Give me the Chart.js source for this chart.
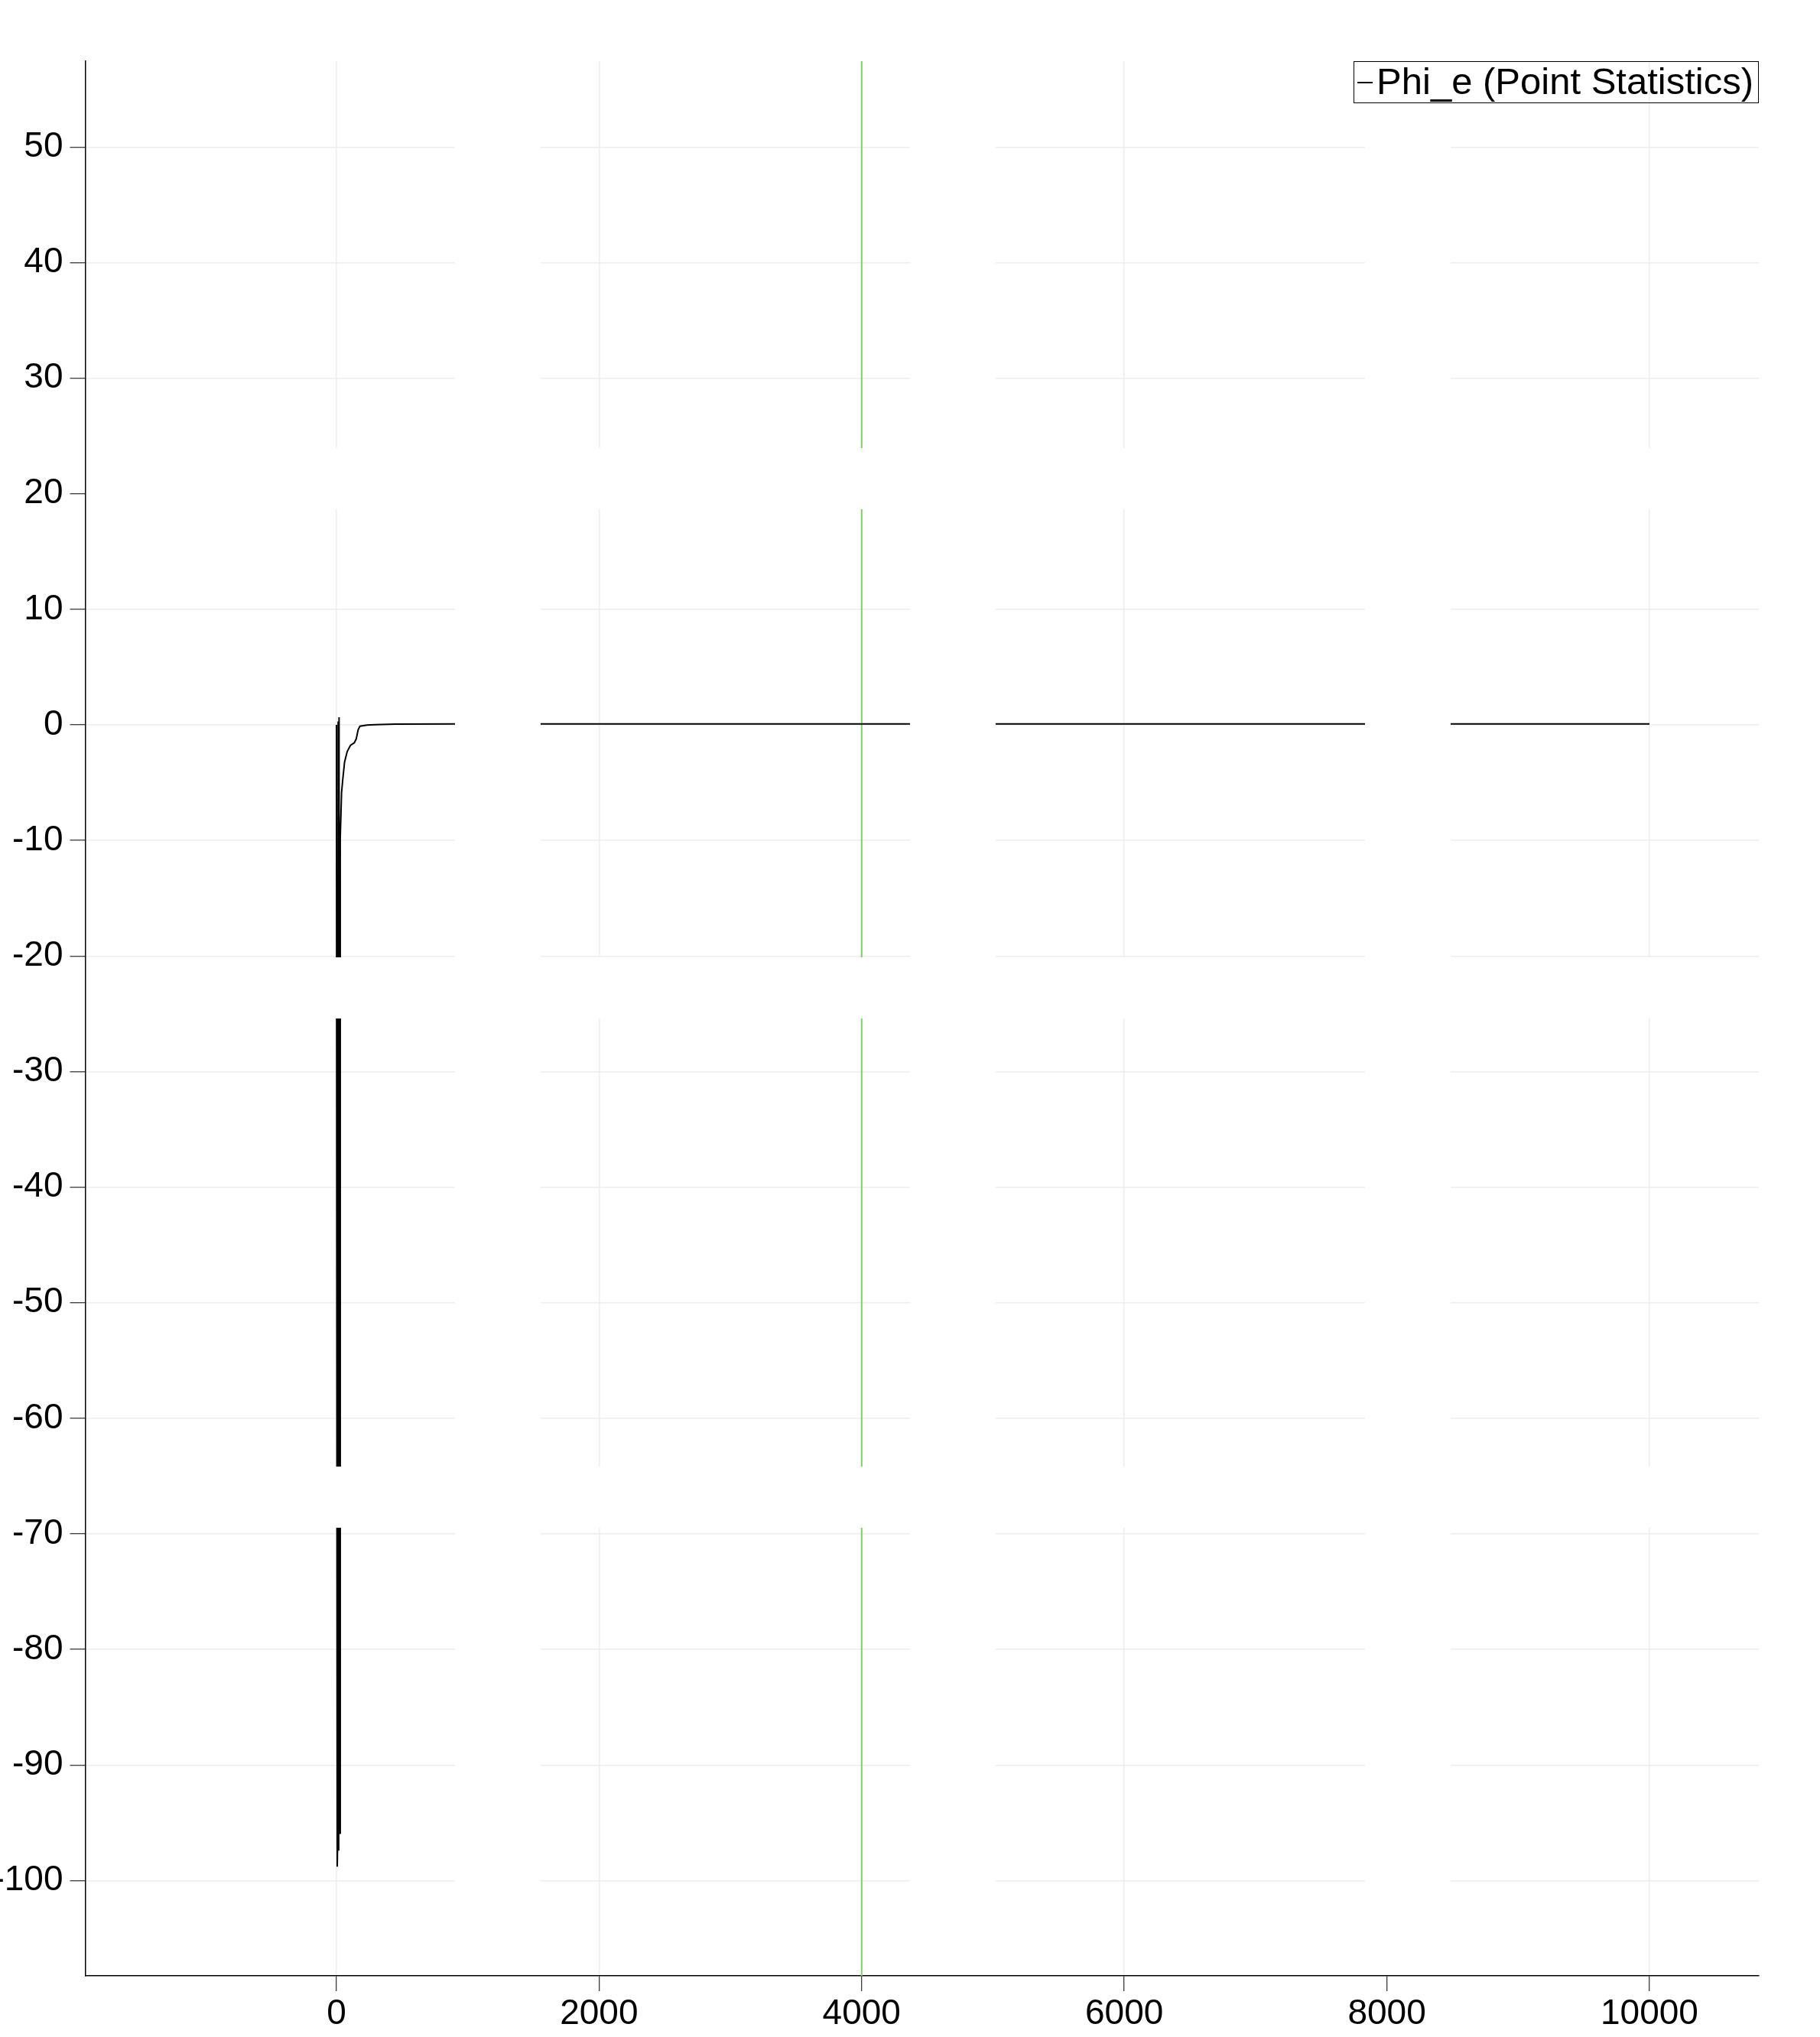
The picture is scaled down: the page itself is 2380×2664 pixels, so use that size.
<!DOCTYPE html>
<html>
<head>
<meta charset="utf-8">
<script src="https://cdn.jsdelivr.net/npm/chart.js@4.4.1/dist/chart.umd.min.js"></script>
<style>
  html, body { margin: 0; padding: 0; background: #ffffff; }
  #wrap { width: 2380px; height: 2664px; }
</style>
</head>
<body>
<div id="wrap"><canvas id="c" width="2380" height="2664"></canvas></div>
<script>
// ---- data ----
const seriesLabel = "Phi_e (Point Statistics)";
const timeValues = [0, 6, 10, 13, 17, 20, 24, 29, 39, 48, 62, 82, 107, 136, 151, 165, 179, 233, 291, 447, 903,
  1000, 1500, 2000, 2500, 3000, 3500, 4000, 4500, 5000, 5500, 6000, 6500, 7000, 7500, 8000, 8500, 9000, 9500, 10000];
const phiValues = [0, -98.8, -96, 0.3, -97.4, 0.66, -95.9, -9.8, -5.85, -4.74, -3.2, -2.3, -1.77, -1.55, -1.2, -0.44, -0.11, -0.02, 0.02, 0.06, 0.08,
  0.08, 0.08, 0.08, 0.08, 0.08, 0.08, 0.08, 0.08, 0.08, 0.08, 0.08, 0.08, 0.08, 0.08, 0.08, 0.08, 0.08, 0.08, 0.08];
const xTicks = [0, 2000, 4000, 6000, 8000, 10000];
const yTicks = [50, 40, 30, 20, 10, 0, -10, -20, -30, -40, -50, -60, -70, -80, -90, -100];
const xRange = [-1913, 10833];
const yRange = [-108.24, 57.43];
const currentTime = 4000;

const points = timeValues.map((t, i) => ({ x: t, y: phiValues[i] }));

const FONT = "'Liberation Sans', Arial, sans-serif";

// vertical time marker
const markerPlugin = {
  id: 'marker',
  beforeDatasetsDraw(chart) {
    const { ctx, chartArea, scales } = chart;
    const px = scales.x.getPixelForValue(currentTime);
    ctx.save();
    ctx.strokeStyle = '#7fcf68';
    ctx.lineWidth = 2;
    ctx.beginPath();
    ctx.moveTo(px, chartArea.top);
    ctx.lineTo(px, chartArea.bottom);
    ctx.stroke();
    ctx.restore();
  }
};

// blank tile seams seen in the reference render
const seamPlugin = {
  id: 'seams',
  afterDatasetsDraw(chart) {
    const { ctx, chartArea } = chart;
    const tileW = chart.width / 4, tileH = chart.height / 4, gapW = 112, gapH = 80;
    ctx.save();
    ctx.fillStyle = '#ffffff';
    for (let i = 1; i < 4; i++) {
      const x0 = tileW * i;
      ctx.fillRect(x0, chartArea.top, gapW, chartArea.bottom - chartArea.top - 1);
      const y1 = tileH * i;
      ctx.fillRect(chartArea.left + 1.5, y1 - gapH, chartArea.right - chartArea.left, gapH);
    }
    ctx.restore();
  }
};

// boxed legend in the top-right corner
const boxLegendPlugin = {
  id: 'boxLegend',
  afterDraw(chart) {
    const { ctx, chartArea } = chart;
    ctx.save();
    ctx.font = '49px ' + FONT;
    const tw = ctx.measureText(seriesLabel).width;
    const h = 54;
    const w = 5 + 20 + 5 + tw + 6;
    const right = chartArea.right - 1;
    const left = right - w;
    const top = chartArea.top;
    ctx.strokeStyle = '#000';
    ctx.lineWidth = 1;
    ctx.strokeRect(Math.round(left) + 0.5, top + 0.5, Math.round(w), h);
    ctx.lineWidth = 2;
    ctx.beginPath();
    ctx.moveTo(left + 5, top + h / 2 + 1);
    ctx.lineTo(left + 25, top + h / 2 + 1);
    ctx.stroke();
    ctx.fillStyle = '#000';
    ctx.textBaseline = 'middle';
    ctx.textAlign = 'left';
    ctx.fillText(seriesLabel, left + 30, top + h / 2 + 2);
    ctx.restore();
  }
};

new Chart(document.getElementById('c'), {
  type: 'line',
  data: {
    datasets: [{
      label: seriesLabel,
      data: points,
      borderColor: '#000000',
      borderWidth: 2,
      pointRadius: 0,
      tension: 0,
      fill: false
    }]
  },
  options: {
    responsive: false,
    devicePixelRatio: 1,
    animation: false,
    layout: { padding: { top: 80, right: 80, left: 0, bottom: 0 } },
    plugins: { legend: { display: false }, tooltip: { enabled: false } },
    scales: {
      x: {
        type: 'linear',
        min: xRange[0],
        max: xRange[1],
        afterFit(s) { s.height = 80; },
        afterBuildTicks(s) { s.ticks = xTicks.map(v => ({ value: v })); },
        grid: { color: '#eeeeee', lineWidth: 1.5, tickColor: '#000', tickLength: 20, tickWidth: 1 },
        border: { color: '#000', width: 1.5 },
        ticks: { color: '#000', font: { family: FONT, size: 46 }, padding: 3, maxRotation: 0, autoSkip: false,
                 callback: v => String(v) }
      },
      y: {
        type: 'linear',
        min: yRange[0],
        max: yRange[1],
        afterFit(s) { s.width = 111.5; },
        afterBuildTicks(s) { s.ticks = yTicks.map(v => ({ value: v })); },
        grid: { color: '#eeeeee', lineWidth: 1.5, tickColor: '#000', tickLength: 20, tickWidth: 1 },
        border: { color: '#000', width: 1.5 },
        ticks: { color: '#000', font: { family: FONT, size: 46 }, padding: 9, autoSkip: false,
                 callback: v => String(v) }
      }
    }
  },
  plugins: [markerPlugin, seamPlugin, boxLegendPlugin]
});
</script>
</body>
</html>
